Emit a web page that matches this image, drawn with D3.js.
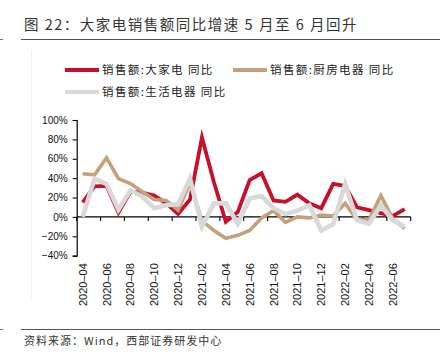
<!DOCTYPE html>
<html><head><meta charset="utf-8">
<script src="https://cdn.jsdelivr.net/npm/d3@7/dist/d3.min.js"></script>
<style>body{margin:0;background:#fff}svg{display:block}</style>
</head><body>
<svg id="c" width="444" height="360"></svg>
<script>
const months = ["2020-04","2020-05","2020-06","2020-07","2020-08","2020-09","2020-10","2020-11","2020-12",
  "2021-01","2021-02","2021-03","2021-04","2021-05","2021-06","2021-07","2021-08","2021-09","2021-10","2021-11","2021-12",
  "2022-01","2022-02","2022-03","2022-04","2022-05","2022-06","2022-07"];
const bigAppliance = [15,31.5,32,4.5,26,25,22,14,3,18,82,36,-5,5,38,45,17,15.5,23,14,9,34,32,10,7,4,1,8];
const kitchen = [44.5,43.5,61,39.5,34.5,26,18,17,7,35,-4,-14,-22,-19,-14,-1,6.5,-5.5,0,-1,2,1,14,-3,-3,22,-2,-12];
const living = [0,39.5,34,7.5,27.5,21,9,12,13,39.5,-10,14,14,-7,19,21.5,9,3,6.5,12,-14,-7.5,34,-3.5,-7,12,-3.5,-10];
const yTicks = [-40,-20,0,20,40,60,80,100];
const xTickLabels = months.filter((m,i)=>i%2===0);
const seriesNames = ["销售额:大家电 同比","销售额:厨房电器 同比","销售额:生活电器 同比"];
const seriesColors = ["#C8102E","#C4A07C","#D9D9D9"];
const seriesWidths = [3.8,3.6,4.6];
const titleText = "图 22：大家电销售额同比增速 5 月至 6 月回升";
const sourceText = "资料来源：Wind，西部证券研发中心";

const svg = d3.select("#c");
const CJK = "'Noto Sans CJK SC','Noto Sans',sans-serif";
const LAT = "'Liberation Sans',Arial,sans-serif";

// title
svg.append("text").attr("x",24).attr("y",30).text(titleText)
  .attr("font-family",CJK).attr("font-size",14.5).attr("letter-spacing",1.5).attr("fill","#333");
// rules
[39,329].forEach(y=>{
  svg.append("line").attr("x1",21).attr("x2",440).attr("y1",y+0.5).attr("y2",y+0.5).attr("stroke","#555").attr("stroke-width",1);
  svg.append("line").attr("x1",0).attr("x2",3).attr("y1",y+0.5).attr("y2",y+0.5).attr("stroke","#777").attr("stroke-width",1);
});
// faint frame edge
svg.append("line").attr("x1",31.5).attr("x2",31.5).attr("y1",50).attr("y2",300).attr("stroke","#f0f0f0");
// source
svg.append("text").attr("x",24).attr("y",345).text(sourceText)
  .attr("font-family",CJK).attr("font-size",11).attr("letter-spacing",1).attr("fill","#333");

// scales
const x = d3.scaleBand().domain(months).range([76.7,410.7]).paddingInner(0).paddingOuter(0);
const y = d3.scaleLinear().domain([-40,100]).range([255.7,120]);
const cx = m => x(m) + x.bandwidth()/2;

// y axis
const yAxis = d3.axisLeft(y).tickValues(yTicks).tickSize(4).tickPadding(5)
  .tickFormat(d => (d<0?"\u2212"+(-d):d) + "%");
const gy = svg.append("g").attr("transform","translate(76.7,0)").call(yAxis);
gy.select(".domain").attr("stroke","#000").attr("stroke-width",1.2);
gy.selectAll(".tick line").attr("stroke","#000").attr("stroke-width",1.1);
gy.selectAll("text").attr("font-family",LAT).attr("font-size",10).attr("fill","#111");

// x axis line at 0 with ticks at band boundaries every 2 months
const gx = svg.append("g");
gx.append("line").attr("x1",x.range()[0]).attr("x2",x.range()[1]).attr("y1",y(0)).attr("y2",y(0))
  .attr("stroke","#000").attr("stroke-width",1.2);
const tickPos = months.filter((m,i)=>i%2===0).map(m=>x(m)).concat([x.range()[1]]);
gx.selectAll("line.t").data(tickPos).enter().append("line").attr("class","t")
  .attr("x1",d=>d).attr("x2",d=>d).attr("y1",y(0)).attr("y2",y(0)+4)
  .attr("stroke","#000").attr("stroke-width",1.1);
// x labels (rotated)
gx.selectAll("text.xl").data(xTickLabels).enter().append("text").attr("class","xl")
  .attr("transform",d=>`translate(${cx(d)+4},${y(-40)+7.5}) rotate(-90)`)
  .attr("text-anchor","end").attr("font-family",LAT).attr("font-size",11).attr("fill","#111")
  .text(d=>d.replace("-","\u2013"));

// lines
const allSeries = [bigAppliance, kitchen, living];
const line = d3.line().x((d,i)=>cx(months[i])).y(d=>y(d));
allSeries.forEach((s,k)=>{
  svg.append("path").datum(s).attr("d",line).attr("fill","none")
    .attr("stroke",seriesColors[k]).attr("stroke-width",seriesWidths[k])
    .attr("stroke-linejoin","miter").attr("stroke-miterlimit",10);
});

// legend
const legendPos = [[65,70],[233,70],[65,92]];
seriesNames.forEach((n,k)=>{
  const [lx,ly] = legendPos[k];
  svg.append("line").attr("x1",lx).attr("x2",lx+34).attr("y1",ly).attr("y2",ly)
    .attr("stroke",seriesColors[k]).attr("stroke-width",4);
  svg.append("text").attr("x",lx+37).attr("y",ly+4.2).text(n)
    .attr("font-family",CJK).attr("font-size",11.5).attr("letter-spacing",1.4).attr("fill","#222");
});
</script>
</body></html>
